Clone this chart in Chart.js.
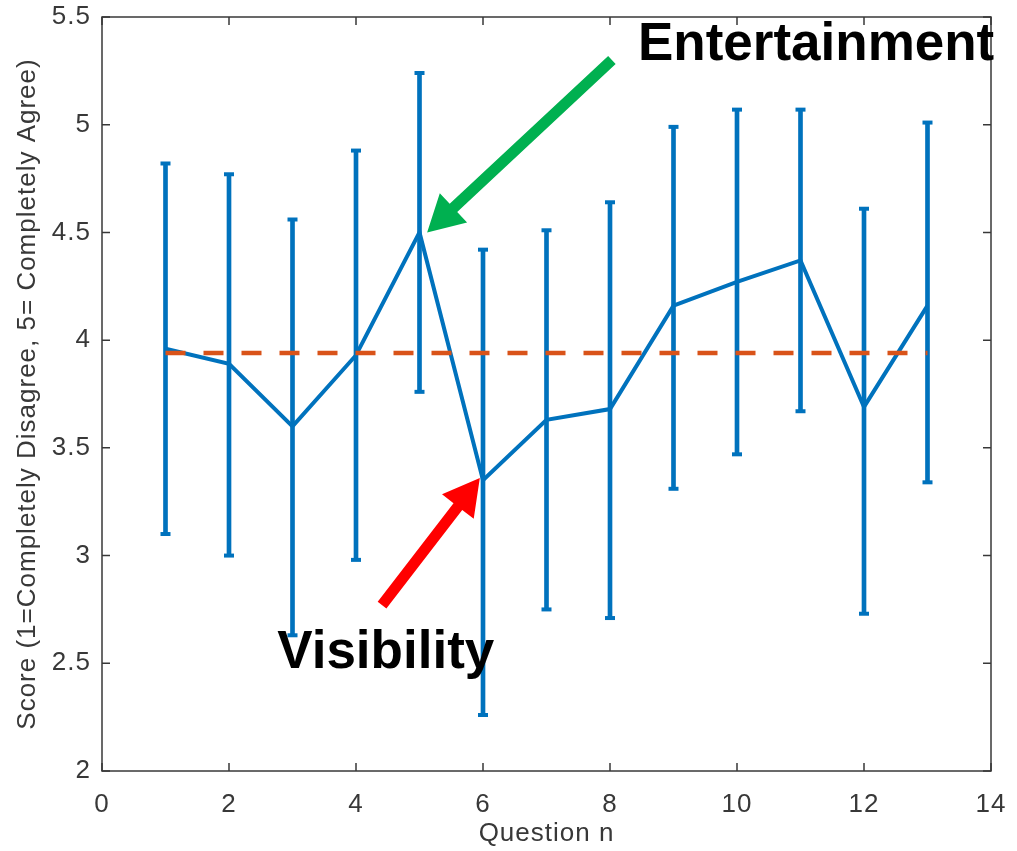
<!DOCTYPE html>
<html>
<head>
<meta charset="utf-8">
<script src="https://cdn.jsdelivr.net/npm/chart.js@4.4.1/dist/chart.umd.min.js"></script>
<style>
  html, body { margin: 0; padding: 0; background: #fff; }
  #wrap { width: 1017px; height: 851px; }
</style>
</head>
<body>
<div id="wrap"><canvas id="scoreChart" width="1017" height="851"></canvas></div>
<script>
const questions  = [1, 2, 3, 4, 5, 6, 7, 8, 9, 10, 11, 12, 13];
const meanScore  = [3.96, 3.89, 3.60, 3.93, 4.50, 3.35, 3.63, 3.68, 4.16, 4.27, 4.37, 3.69, 4.16];
const upperScore = [4.82, 4.77, 4.56, 4.88, 5.24, 4.42, 4.51, 4.64, 4.99, 5.07, 5.07, 4.61, 5.01];
const lowerScore = [3.10, 3.00, 2.63, 2.98, 3.76, 2.26, 2.75, 2.71, 3.31, 3.47, 3.67, 2.73, 3.34];
const overallMean = 3.94;
const xTicks = [0, 2, 4, 6, 8, 10, 12, 14];
const yTicks = [2, 2.5, 3, 3.5, 4, 4.5, 5, 5.5];

// callouts, in data units
const callouts = [
  { text: 'Entertainment', color: '#00B050', tail: [8.03, 5.30], tip: [5.12, 4.50], at: [8.44, 5.30] },
  { text: 'Visibility',    color: '#FF0000', tail: [4.41, 2.77], tip: [5.95, 3.36], at: [2.76, 2.48] }
];

const blue = '#0072BD';
const orange = '#D95319';
const axisColor = '#383838';

function drawArrow(ctx, x0, y0, x1, y1, color) {
  const dx = x1 - x0, dy = y1 - y0, len = Math.hypot(dx, dy);
  const ux = dx / len, uy = dy / len, nx = -uy, ny = ux;
  const headLen = 36, headHalf = 20, shaft = 5.5;
  const bx = x1 - ux * headLen, by = y1 - uy * headLen;
  ctx.beginPath();
  ctx.moveTo(x0 + nx * shaft, y0 + ny * shaft);
  ctx.lineTo(bx + nx * shaft, by + ny * shaft);
  ctx.lineTo(bx + nx * headHalf, by + ny * headHalf);
  ctx.lineTo(x1, y1);
  ctx.lineTo(bx - nx * headHalf, by - ny * headHalf);
  ctx.lineTo(bx - nx * shaft, by - ny * shaft);
  ctx.lineTo(x0 - nx * shaft, y0 - ny * shaft);
  ctx.closePath();
  ctx.fillStyle = color;
  ctx.fill();
}

const spacing = {
  id: 'spacing',
  beforeDraw(chart) { chart.ctx.letterSpacing = '1px'; }
};

// matlab style box with ticks pointing inward on all four sides
const frame = {
  id: 'frame',
  afterDatasetsDraw(chart) {
    const { ctx, chartArea: a, scales: { x, y } } = chart;
    const t = 8;
    ctx.save();
    ctx.strokeStyle = axisColor;
    ctx.lineWidth = 1.5;
    ctx.strokeRect(a.left, a.top, a.right - a.left, a.bottom - a.top);
    ctx.beginPath();
    xTicks.forEach(v => {
      const px = x.getPixelForValue(v);
      ctx.moveTo(px, a.bottom); ctx.lineTo(px, a.bottom - t);
      ctx.moveTo(px, a.top); ctx.lineTo(px, a.top + t);
    });
    yTicks.forEach(v => {
      const py = y.getPixelForValue(v);
      ctx.moveTo(a.left, py); ctx.lineTo(a.left + t, py);
      ctx.moveTo(a.right, py); ctx.lineTo(a.right - t, py);
    });
    ctx.stroke();
    ctx.restore();
  }
};

const notes = {
  id: 'notes',
  afterDraw(chart) {
    const { ctx, scales: { x, y } } = chart;
    ctx.save();
    callouts.forEach(c => {
      drawArrow(ctx,
        x.getPixelForValue(c.tail[0]), y.getPixelForValue(c.tail[1]),
        x.getPixelForValue(c.tip[0]), y.getPixelForValue(c.tip[1]), c.color);
    });
    ctx.letterSpacing = '0px';
    ctx.font = 'bold 53px "Liberation Sans", Arial, sans-serif';
    ctx.fillStyle = '#000';
    ctx.textAlign = 'left';
    ctx.textBaseline = 'alphabetic';
    callouts.forEach(c => {
      ctx.fillText(c.text, x.getPixelForValue(c.at[0]), y.getPixelForValue(c.at[1]));
    });
    ctx.restore();
  }
};

const tickFont = { family: '"Liberation Sans", Arial, sans-serif', size: 26 };
const noPad = s => { s.paddingTop = 0; s.paddingBottom = 0; s.paddingLeft = 0; s.paddingRight = 0; };

new Chart(document.getElementById('scoreChart'), {
  type: 'line',
  data: {
    datasets: [
      {
        data: [{ x: questions[0], y: overallMean }, { x: questions[questions.length - 1], y: overallMean }],
        borderColor: orange,
        borderWidth: 4.5,
        borderDash: [20, 18],
        pointRadius: 0,
        fill: false
      },
      {
        data: questions.map((q, i) => ({ x: q, y: meanScore[i] })),
        borderColor: blue,
        borderWidth: 4,
        pointRadius: 0,
        tension: 0,
        fill: false
      },
      {
        data: questions.flatMap((q, i) => [{ x: q, y: lowerScore[i] }, { x: q, y: upperScore[i] }]),
        showLine: false,
        pointStyle: 'line',
        pointRadius: 5,
        pointBorderWidth: 4,
        pointBorderColor: blue,
        borderColor: blue
      },
      {
        type: 'bar',
        data: questions.map((q, i) => ({ x: q, y: [lowerScore[i], upperScore[i]] })),
        backgroundColor: blue,
        borderWidth: 0,
        barThickness: 4,
        grouped: false
      }
    ]
  },
  options: {
    responsive: false,
    animation: false,
    layout: { padding: { top: 17, right: 26, left: 0, bottom: 0 } },
    plugins: { legend: { display: false }, tooltip: { enabled: false } },
    scales: {
      x: {
        type: 'linear',
        min: 0, max: 14,
        offset: false,
        grid: { display: false, drawTicks: false },
        border: { display: false },
        afterBuildTicks: s => { s.ticks = xTicks.map(v => ({ value: v })); },
        afterFit: s => { s.height = 80; noPad(s); },
        ticks: { color: axisColor, font: tickFont, padding: 18, autoSkip: false, maxRotation: 0,
                 callback: v => String(v) },
        title: { display: true, text: 'Question n', color: axisColor, font: tickFont,
                 padding: { top: 0, bottom: 2 } }
      },
      y: {
        type: 'linear',
        min: 2, max: 5.5,
        grid: { display: false, drawTicks: false },
        border: { display: false },
        afterBuildTicks: s => { s.ticks = yTicks.map(v => ({ value: v })); },
        afterFit: s => { s.width = 102; noPad(s); },
        ticks: { color: axisColor, font: tickFont, padding: 11, autoSkip: false,
                 callback: v => String(v) },
        title: { display: true, text: 'Score (1=Completely Disagree, 5= Completely Agree)',
                 color: axisColor, font: tickFont, padding: { top: 12, bottom: 0 } }
      }
    }
  },
  plugins: [spacing, frame, notes]
});
</script>
</body>
</html>
